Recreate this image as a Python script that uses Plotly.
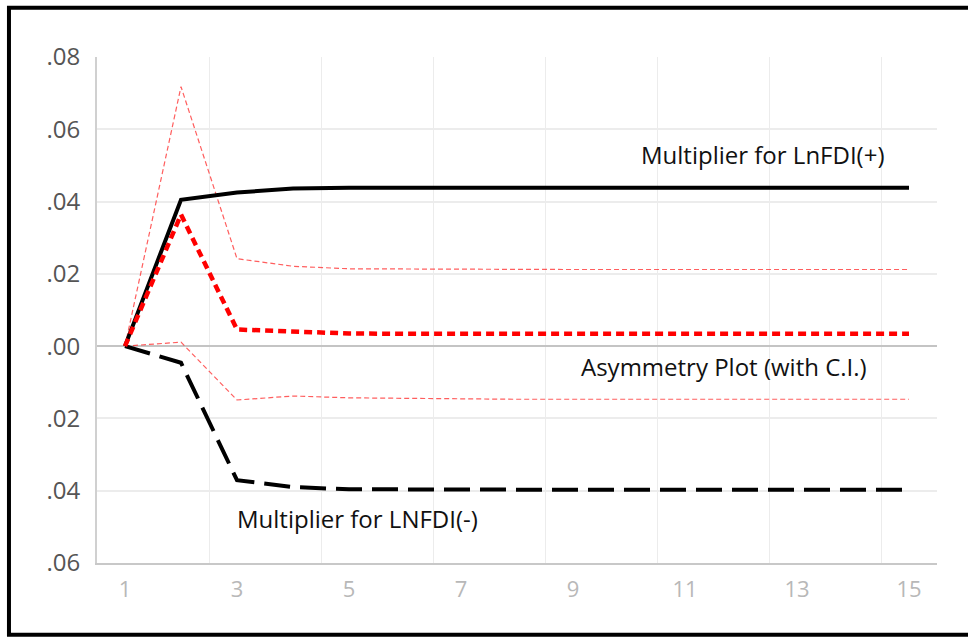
import plotly.graph_objects as go

periods = list(range(1, 16))
mult_pos = [0.0, 0.0405, 0.0425, 0.0436, 0.0438, 0.0438, 0.0438, 0.0438, 0.0438, 0.0438, 0.0438, 0.0438, 0.0438, 0.0438, 0.0438]
mult_neg = [0.0, -0.0046, -0.0371, -0.0390, -0.0396, -0.0397, -0.0397, -0.0397, -0.0397, -0.0397, -0.0397, -0.0397, -0.0397, -0.0397, -0.0397]
asym = [0.0, 0.0364, 0.0046, 0.0039, 0.0035, 0.0034, 0.0034, 0.0034, 0.0034, 0.0034, 0.0034, 0.0034, 0.0034, 0.0034, 0.0034]
ci_upper = [0.0, 0.0718, 0.0242, 0.0221, 0.0214, 0.0213, 0.0212, 0.0212, 0.0212, 0.0212, 0.0212, 0.0212, 0.0212, 0.0212, 0.0212]
ci_lower = [0.0, 0.0011, -0.0149, -0.0138, -0.0143, -0.0145, -0.0146, -0.0147, -0.0147, -0.0147, -0.0147, -0.0147, -0.0147, -0.0147, -0.0147]

x_ticks = [1, 3, 5, 7, 9, 11, 13, 15]
x_grid = [2.5, 4.5, 6.5, 8.5, 10.5, 12.5, 14.5]
y_ticks = [0.08, 0.06, 0.04, 0.02, 0.0, -0.02, -0.04, -0.06]
y_ticktext = [".08", ".06", ".04", ".02", ".00", ".02", ".04", ".06"]

labels = [
    ("Multiplier for LnFDI(+)", 12.38, 0.0530),
    ("Asymmetry Plot (with C.I.)", 11.7, -0.0055),
    ("Multiplier for LNFDI(-)", 5.16, -0.0477),
]

fig = go.Figure()
fig.add_trace(go.Scatter(x=periods, y=ci_upper, mode="lines",
                         line=dict(color="rgba(255,40,40,0.75)", width=1.2, dash="5px,3px")))
fig.add_trace(go.Scatter(x=periods, y=ci_lower, mode="lines",
                         line=dict(color="rgba(255,40,40,0.75)", width=1.2, dash="5px,3px")))
fig.add_trace(go.Scatter(x=periods, y=mult_pos, mode="lines",
                         line=dict(color="black", width=4)))
fig.add_trace(go.Scatter(x=periods, y=mult_neg, mode="lines",
                         line=dict(color="black", width=4, dash="26px,10px")))
fig.add_trace(go.Scatter(x=periods, y=asym, mode="lines",
                         line=dict(color="#ff0000", width=4.5, dash="8px,5px")))

for text, xv, yv in labels:
    fig.add_annotation(x=xv, y=yv, text=text, showarrow=False,
                       font=dict(family="Open Sans", size=24, color="#111111"))

fig.add_shape(type="rect", xref="paper", yref="paper",
              x0=-0.1048, x1=1.05, y0=-0.1417, y1=1.0974,
              line=dict(color="black", width=4), fillcolor="rgba(0,0,0,0)", layer="above")

fig.update_layout(
    width=968, height=637,
    margin=dict(l=97, r=31, t=57, b=74),
    paper_bgcolor="white", plot_bgcolor="white",
    showlegend=False,
    font=dict(family="Open Sans"),
    xaxis=dict(range=[0.5, 15.5], tickmode="array", tickvals=x_ticks,
               ticktext=[str(v) for v in x_ticks], showgrid=False, zeroline=False,
               showline=True, linecolor="#c8c8c8", linewidth=2, ticks="",
               ticklabelstandoff=6,
               tickfont=dict(size=22, color="#b8b8b8"),
               minor=dict(tickmode="array", tickvals=x_grid, showgrid=True,
                          gridcolor="#ececec", gridwidth=1, ticks="")),
    yaxis=dict(range=[-0.06, 0.08], tickmode="array", tickvals=y_ticks,
               ticktext=y_ticktext, showgrid=True, gridcolor="#ececec", gridwidth=1.5,
               zeroline=True, zerolinecolor="#c4c4c4", zerolinewidth=2,
               showline=True, linecolor="#d0d0d0", linewidth=2, ticks="",
               ticklabelstandoff=10,
               tickfont=dict(size=24, color="#555555")),
)

fig.write_html("out.html", config={"displayModeBar": False},
               post_script="document.body.style.margin='0';document.body.style.overflow='hidden';")
